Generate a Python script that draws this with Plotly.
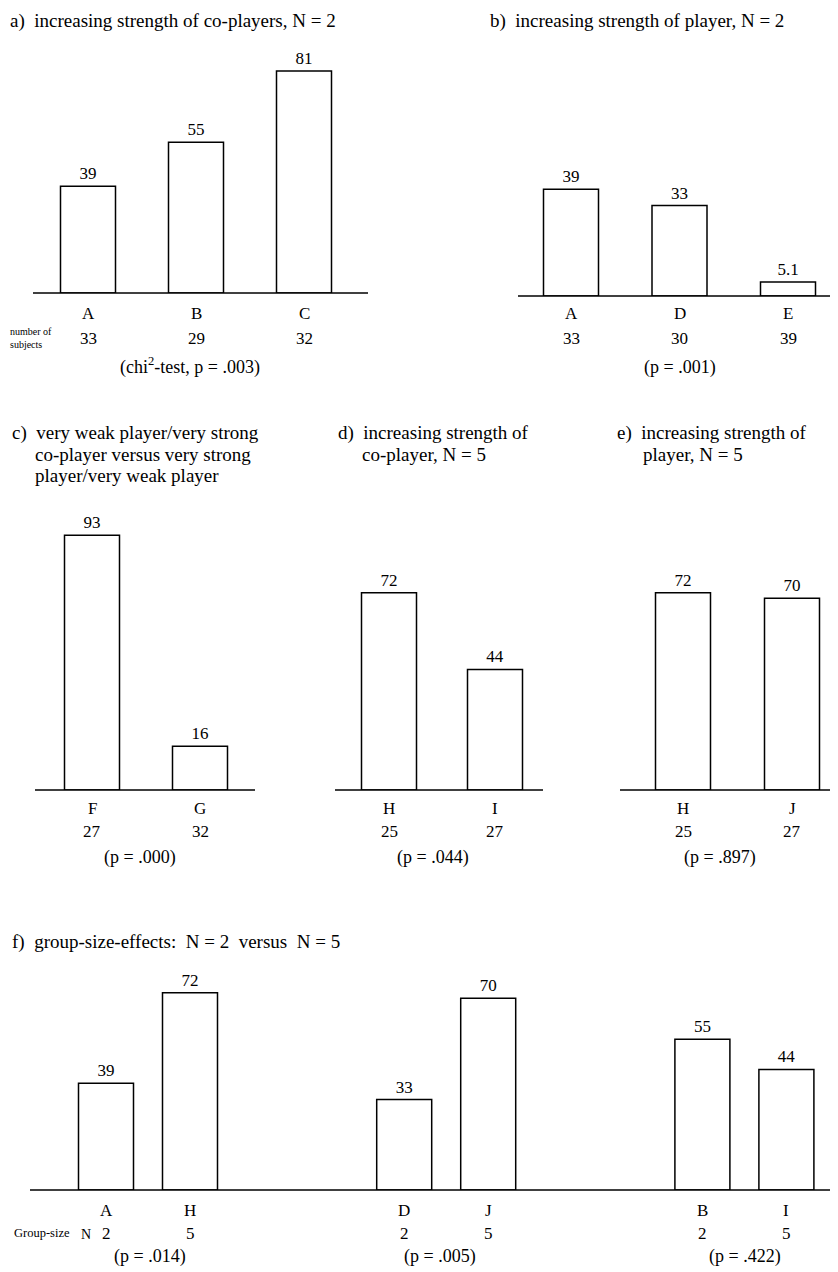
import plotly.graph_objects as go

# The page body has an 8px default margin, so the figure is drawn 8px smaller
# and every reference-pixel coordinate is shifted by that offset.
REF_W, REF_H = 838, 1272
OFF = 8
W, H = REF_W - OFF, REF_H - OFF
FONT = "Liberation Serif"
NB = "\u00a0"

# ---------------- data ----------------
a_labels = ["A", "B", "C"]
a_values = [39, 55, 81]
a_subjects = ["33", "29", "32"]
a_test = "(chi<sup>2</sup>-test, p = .003)"

b_labels = ["A", "D", "E"]
b_values = [39, 33, 5.1]
b_subjects = ["33", "30", "39"]
b_test = "(p = .001)"

c_labels = ["F", "G"]
c_values = [93, 16]
c_subjects = ["27", "32"]
c_test = "(p = .000)"

d_labels = ["H", "I"]
d_values = [72, 44]
d_subjects = ["25", "27"]
d_test = "(p = .044)"

e_labels = ["H", "J"]
e_values = [72, 70]
e_subjects = ["25", "27"]
e_test = "(p = .897)"

f_labels = ["A", "H", "D", "J", "B", "I"]
f_values = [39, 72, 33, 70, 55, 44]
f_groupsize = ["2", "5", "2", "5", "2", "5"]
f_tests = ["(p = .014)", "(p = .005)", "(p = .422)"]

# ---------------- layout helpers ----------------
K = 2.74          # pixels per percentage point
BAR_PX = 55       # bar width in pixels
TITLE_SIZE = 19
TEXT_SIZE = 17


def py(p):
    return 1 - (p - OFF) / H


def px(p):
    return (p - OFF) / W


fig = go.Figure()
annotations = []
shapes = []


def add_panel(i, labels, values, second_row, positions, geo):
    xa = "x" if i == 1 else f"x{i}"
    ya = "y" if i == 1 else f"y{i}"
    x0, x1, c0, step, base, top = geo["x0"], geo["x1"], geo["c0"], geo["step"], geo["base"], geo["top"]
    fig.add_trace(go.Bar(
        x=positions, y=values,
        width=BAR_PX / step,
        text=[str(v) for v in values],
        textposition="outside",
        textfont=dict(family=FONT, size=TEXT_SIZE, color="black"),
        marker=dict(color="white", line=dict(color="black", width=1.5)),
        cliponaxis=False,
        xaxis=xa, yaxis=ya, showlegend=False, hoverinfo="skip",
    ))
    sfx = "" if i == 1 else str(i)
    fig.update_layout(**{
        f"xaxis{sfx}": dict(domain=[max(px(x0), 0), min(px(x1), 1)],
                            range=[(max(x0, OFF) - c0) / step, (min(x1, REF_W) - c0) / step],
                            visible=False, anchor=ya),
        f"yaxis{sfx}": dict(domain=[py(base), py(top)],
                            range=[0, (base - top) / K],
                            visible=False, anchor=xa),
    })
    shapes.append(dict(type="line", xref="paper", yref="paper",
                       x0=px(x0), x1=px(x1), y0=py(base), y1=py(base),
                       line=dict(color="black", width=1.6)))
    for pos, lab, sub in zip(positions, labels, second_row):
        annotations.append(dict(x=pos, y=py(geo["ly"]), xref=xa, yref="paper",
                                text=lab, showarrow=False, yanchor="middle",
                                font=dict(family=FONT, size=TEXT_SIZE, color="black")))
        annotations.append(dict(x=pos, y=py(geo["sy"]), xref=xa, yref="paper",
                                text=sub, showarrow=False, yanchor="middle",
                                font=dict(family=FONT, size=TEXT_SIZE, color="black")))


def add_text(x, y, text, size=TITLE_SIZE, anchor="left"):
    annotations.append(dict(x=px(x), y=py(y), xref="paper", yref="paper",
                            text=text, showarrow=False, xanchor=anchor,
                            yanchor="middle", align="left",
                            font=dict(family=FONT, size=size, color="black")))


# panel a
add_panel(1, a_labels, a_values, a_subjects, list(range(len(a_values))),
          dict(x0=33, x1=368, c0=88, step=108, base=293, top=40, ly=313, sy=338))
add_text(190, 366, a_test, 18, "center")
add_text(8, 338, "number of<br>subjects", 10)
add_text(8, 21, "a)" + NB * 2 + "increasing strength of co-players, N = 2")

# panel b
add_panel(2, b_labels, b_values, b_subjects, list(range(len(b_values))),
          dict(x0=518, x1=838, c0=571, step=108.5, base=296, top=40, ly=313, sy=339))
add_text(680, 367, b_test, 18, "center")
add_text(488, 21, "b)" + NB * 2 + "increasing strength of player, N = 2")

# panel c
add_panel(3, c_labels, c_values, c_subjects, list(range(len(c_values))),
          dict(x0=35, x1=255, c0=92, step=108, base=790, top=500, ly=808, sy=831))
add_text(140, 857, c_test, 18, "center")
add_text(10, 433, "c)" + NB * 2 + "very weak player/very strong")
add_text(33, 454, "co-player versus very strong")
add_text(33, 475, "player/very weak player")

# panel d
add_panel(4, d_labels, d_values, d_subjects, list(range(len(d_values))),
          dict(x0=335, x1=543, c0=389, step=106, base=790, top=500, ly=808, sy=831))
add_text(433, 857, d_test, 18, "center")
add_text(336, 433, "d)" + NB * 2 + "increasing strength of")
add_text(360, 454, "co-player, N = 5")

# panel e
add_panel(5, e_labels, e_values, e_subjects, list(range(len(e_values))),
          dict(x0=620, x1=838, c0=683, step=109, base=790, top=500, ly=808, sy=831))
add_text(720, 857, e_test, 18, "center")
add_text(615, 433, "e)" + NB * 2 + "increasing strength of")
add_text(641, 454, "player, N = 5")

# panel f (three pairs)
GROUP_GAP = 3.55
f_positions = [g * GROUP_GAP + k for g in range(3) for k in range(2)]
add_panel(6, f_labels, f_values, f_groupsize, f_positions,
          dict(x0=30, x1=838, c0=106, step=84, base=1190, top=970, ly=1210, sy=1233))
for xc, t in zip([150, 440, 745], f_tests):
    add_text(xc, 1256, t, 18, "center")
add_text(12, 1233, "Group-size", 12.5)
add_text(79, 1234, "N", 14)
add_text(10, 942, "f)" + NB * 2 + "group-size-effects:" + NB * 2 + "N = 2" + NB * 2 + "versus" + NB * 2 + "N = 5")

fig.update_layout(
    width=W, height=H,
    margin=dict(l=0, r=0, t=0, b=0),
    paper_bgcolor="white", plot_bgcolor="white",
    annotations=annotations, shapes=shapes,
    font=dict(family=FONT, color="black"),
    showlegend=False,
)

fig.write_html("out.html")
